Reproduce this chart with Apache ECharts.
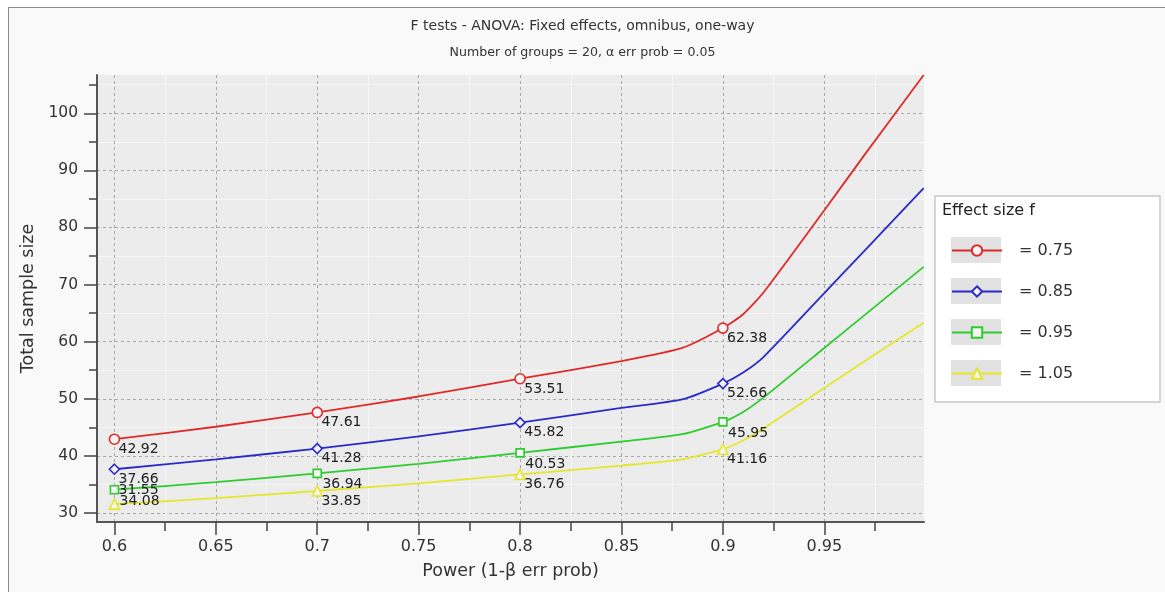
<!DOCTYPE html>
<html>
<head>
<meta charset="utf-8">
<script src="https://cdn.jsdelivr.net/npm/echarts@6/dist/echarts.min.js"></script>
<style>
  html, body { margin: 0; padding: 0; background: #ffffff; overflow: hidden; }
  #wrap { position: relative; width: 1165px; height: 592px; overflow: hidden; }
  #panel { position: absolute; left: 8px; top: 7px; width: 1200px; height: 620px;
           border: 1.5px solid #8c8c8c; background: #f9f9f9; }
  #chart { position: absolute; left: 0; top: 0; width: 1165px; height: 592px; }
</style>
</head>
<body>
<div id="wrap">
  <div id="panel"></div>
  <div id="chart"></div>
</div>
<script>
// Power (1-β) at which each curve is sampled
const power = [0.6, 0.65, 0.7, 0.75, 0.8, 0.85, 0.88, 0.9, 0.91, 0.92, 0.95, 0.97, 0.999];
// Power levels carrying a marker and a value label
const markedPower = [0.6, 0.7, 0.8, 0.9];

// Total sample size for each effect size f
const n075 = [42.92, 45.1, 47.61, 50.4, 53.51, 56.6, 58.9, 62.38, 64.8, 68.6, 83.0, 92.8, 106.7];
const n085 = [37.66, 39.4, 41.28, 43.4, 45.82, 48.4, 49.9, 52.66, 54.6, 57.3, 68.5, 76.0, 86.9];
const n095 = [34.08, 35.4, 36.94, 38.6, 40.53, 42.5, 43.8, 45.95, 47.7, 50.2, 58.9, 64.7, 73.1];
const n105 = [31.55, 32.6, 33.85, 35.2, 36.76, 38.3, 39.4, 41.16, 42.7, 44.8, 51.9, 56.6, 63.3];

const effectNames = ['= 0.75', '= 0.85', '= 0.95', '= 1.05'];

// Axis ticks
const xTicks = [0.6, 0.65, 0.7, 0.75, 0.8, 0.85, 0.9, 0.95];
const xMinorTicks = [0.625, 0.675, 0.725, 0.775, 0.825, 0.875, 0.925, 0.975];
const yTicks = [30, 40, 50, 60, 70, 80, 90, 100];
const yMinorTicks = [35, 45, 55, 65, 75, 85, 95, 105];

const seriesValues = [n075, n085, n095, n105];
const colors = ['#e02a2a', '#2a2ac8', '#2ecc2e', '#e6e62a'];
const symbols = ['circle', 'diamond', 'rect', 'triangle'];
const symbolSizes = [10, 10, 8, 10];

const FONT = 'DejaVu Sans';
const X_MIN = 0.59142, X_MAX = 0.99915;
const Y_MIN = 28.42, Y_MAX = 106.7;

function buildData(values, si) {
  return power.map((p, i) => {
    const marked = markedPower.indexOf(p) >= 0;
    if (!marked) return { value: [p, values[i]], symbol: 'none' };
    const item = {
      value: [p, values[i]],
      symbol: symbols[si],
      label: { show: true }
    };
    // the two lowest labels at the first power level are stacked apart
    if (si === 3 && i === 0) item.label.position = [10, -15];
    return item;
  });
}

const series = seriesValues.map((vals, si) => ({
  name: effectNames[si],
  type: 'line',
  xAxisIndex: 0,
  yAxisIndex: 0,
  smooth: 0.2,
  showAllSymbol: true,
  symbol: symbols[si],
  symbolSize: symbolSizes[si],
  lineStyle: { color: colors[si], width: 1.8 },
  itemStyle: { color: '#f4f4f4', borderColor: colors[si], borderWidth: 1.6 },
  emphasis: { disabled: true },
  label: {
    show: false,
    position: [10, 9],
    formatter: p => p.value[1].toFixed(2),
    fontFamily: FONT,
    fontSize: 14,
    color: '#222'
  },
  data: buildData(vals, si),
  z: 3
}));

const chart = echarts.init(document.getElementById('chart'), null, { renderer: 'canvas' });

chart.setOption({
  backgroundColor: 'transparent',
  animation: false,
  title: {
    left: 'center',
    top: 14,
    text: 'F tests - ANOVA: Fixed effects, omnibus, one-way',
    subtext: 'Number of groups = 20, α err prob = 0.05',
    itemGap: 13,
    textStyle: { fontFamily: FONT, fontSize: 14, fontWeight: 'normal', color: '#333' },
    subtextStyle: { fontFamily: FONT, fontSize: 12.6, color: '#333' }
  },
  grid: {
    left: 97, right: 241, top: 75, bottom: 70,
    show: true, backgroundColor: '#ececec', borderWidth: 0
  },
  legend: {
    orient: 'vertical',
    left: 946,
    top: 237.5,
    itemWidth: 50,
    itemHeight: 13,
    itemGap: 25,
    selectedMode: false,
    data: effectNames,
    textStyle: { fontFamily: FONT, fontSize: 16, color: '#333', padding: [0, 0, 0, 12] },
    z: 10
  },
  graphic: [
    { type: 'rect', z: 1, shape: { x: 935, y: 196, width: 225, height: 206 },
      style: { fill: '#ffffff', stroke: '#c8c8c8', lineWidth: 1.5 } },
    { type: 'text', z: 2, x: 942, y: 211,
      style: { text: 'Effect size f', font: '16px "DejaVu Sans"', fill: '#222', textVerticalAlign: 'middle' } },
    ...effectNames.map((n, k) => ({
      type: 'rect', z: 2, shape: { x: 951, y: 237 + k * 41, width: 50, height: 26 },
      style: { fill: '#e2e2e2' }
    }))
  ],
  xAxis: [
    {
      type: 'value', min: X_MIN, max: X_MAX,
      name: 'Power (1-β err prob)', nameLocation: 'middle', nameGap: 40,
      nameTextStyle: { fontFamily: FONT, fontSize: 17.5, color: '#333' },
      axisLine: { show: true, lineStyle: { color: '#555', width: 2 } },
      axisTick: { show: true, customValues: xTicks, length: 13, lineStyle: { color: '#444', width: 1.5 } },
      axisLabel: { show: true, customValues: xTicks, margin: 17, fontFamily: FONT, fontSize: 16, color: '#333',
                   formatter: v => String(+v.toFixed(2)) },
      splitLine: { show: true, lineStyle: { color: '#a8a8a8', type: [3, 3], width: 1 } }
    },
    {
      type: 'value', min: X_MIN, max: X_MAX, position: 'bottom',
      axisLine: { show: false },
      axisTick: { show: true, customValues: xMinorTicks, length: 9, lineStyle: { color: '#444', width: 1.5 } },
      axisLabel: { show: false },
      splitLine: { show: true, lineStyle: { color: '#f6f6f6', width: 1 } }
    }
  ],
  yAxis: [
    {
      type: 'value', min: Y_MIN, max: Y_MAX,
      name: 'Total sample size', nameLocation: 'middle', nameGap: 56,
      nameTextStyle: { fontFamily: FONT, fontSize: 17.5, color: '#333' },
      axisLine: { show: true, lineStyle: { color: '#555', width: 2 } },
      axisTick: { show: true, customValues: yTicks, length: 13, lineStyle: { color: '#444', width: 1.5 } },
      axisLabel: { show: true, customValues: yTicks, margin: 19, fontFamily: FONT, fontSize: 15.5, color: '#333' },
      splitLine: { show: true, lineStyle: { color: '#a8a8a8', type: [3, 3], width: 1 } }
    },
    {
      type: 'value', min: Y_MIN, max: Y_MAX, position: 'left',
      axisLine: { show: false },
      axisTick: { show: true, customValues: yMinorTicks, length: 8, lineStyle: { color: '#444', width: 1.5 } },
      axisLabel: { show: false },
      splitLine: { show: true, lineStyle: { color: '#f6f6f6', width: 1 } }
    }
  ],
  series: series
});
</script>
</body>
</html>
